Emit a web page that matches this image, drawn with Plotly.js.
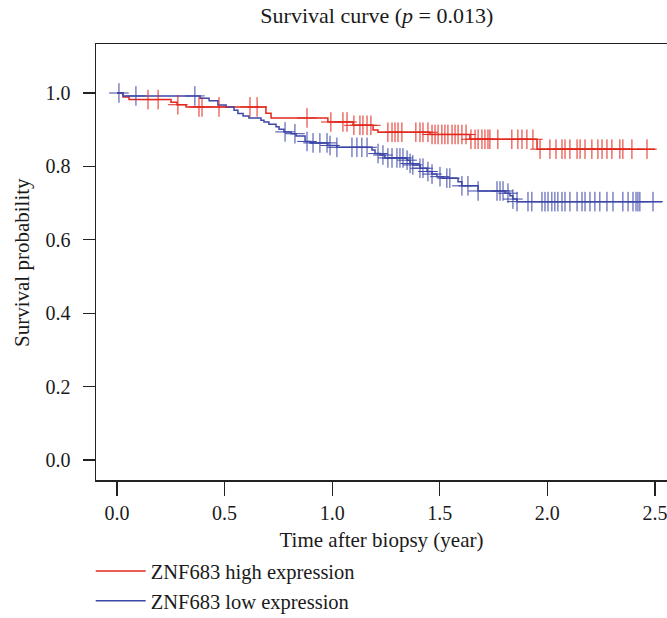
<!DOCTYPE html>
<html><head><meta charset="utf-8">
<script src="https://cdn.plot.ly/plotly-3.0.1.min.js"></script>
<style>html,body{margin:0;padding:0;background:#fff;overflow:hidden}</style>
</head><body><div id="chart" style="width:667px;height:618px"></div>
<script>
// Kaplan-Meier step data (time in years, survival after each event)
var highTimes = [0, 0.028, 0.056, 0.251, 0.279, 0.321, 0.692, 0.716, 0.980, 1.097, 1.190, 1.213, 1.454, 1.640, 1.952, 2.500];
var highSurv  = [1.0, 0.989, 0.982, 0.975, 0.968, 0.962, 0.945, 0.932, 0.921, 0.912, 0.899, 0.893, 0.887, 0.874, 0.847, 0.847];
var lowTimes = [0, 0.028, 0.386, 0.428, 0.469, 0.507, 0.544, 0.562, 0.586, 0.613, 0.669, 0.683, 0.706, 0.739, 0.753, 0.776, 0.809, 0.832, 0.874, 0.897, 0.980, 1.022, 1.185, 1.199, 1.222, 1.245, 1.348, 1.362, 1.375, 1.408, 1.441, 1.464, 1.487, 1.515, 1.585, 1.603, 1.678, 1.803, 1.826, 1.840, 1.859, 2.533];
var lowSurv  = [1.0, 0.992, 0.986, 0.979, 0.967, 0.962, 0.953, 0.944, 0.937, 0.932, 0.926, 0.921, 0.915, 0.908, 0.901, 0.894, 0.889, 0.883, 0.868, 0.864, 0.857, 0.852, 0.845, 0.835, 0.831, 0.823, 0.817, 0.808, 0.804, 0.795, 0.786, 0.779, 0.772, 0.768, 0.758, 0.747, 0.733, 0.727, 0.720, 0.711, 0.704, 0.704];
// censoring times
var highCensor = [0.144, 0.191, 0.283, 0.381, 0.395, 0.474, 0.618, 0.651, 0.883, 0.994, 1.050, 1.069, 1.101, 1.129, 1.143, 1.162, 1.180, 1.259, 1.278, 1.292, 1.306, 1.324, 1.389, 1.408, 1.422, 1.445, 1.464, 1.478, 1.492, 1.510, 1.524, 1.538, 1.557, 1.571, 1.585, 1.603, 1.622, 1.645, 1.664, 1.678, 1.696, 1.710, 1.724, 1.733, 1.770, 1.835, 1.863, 1.882, 1.905, 1.933, 1.966, 2.012, 2.040, 2.068, 2.082, 2.105, 2.138, 2.152, 2.175, 2.207, 2.235, 2.254, 2.277, 2.300, 2.337, 2.351, 2.393, 2.463];
var lowCensor = [0.009, 0.088, 0.362, 0.781, 0.827, 0.883, 0.911, 0.943, 0.976, 0.990, 1.022, 1.092, 1.115, 1.138, 1.162, 1.213, 1.236, 1.259, 1.278, 1.301, 1.315, 1.329, 1.348, 1.362, 1.375, 1.408, 1.422, 1.445, 1.464, 1.501, 1.533, 1.547, 1.603, 1.631, 1.678, 1.766, 1.780, 1.794, 1.817, 1.840, 1.859, 1.910, 1.928, 1.975, 1.989, 2.003, 2.021, 2.035, 2.049, 2.068, 2.082, 2.105, 2.138, 2.161, 2.175, 2.198, 2.221, 2.244, 2.277, 2.305, 2.351, 2.375, 2.398, 2.412, 2.421, 2.430, 2.491];
var seriesNames = ["ZNF683 high expression", "ZNF683 low expression"];
var xTicks = [0, 0.5, 1.0, 1.5, 2.0, 2.5];
var yTicks = [0, 0.2, 0.4, 0.6, 0.8, 1.0];

function stepAt(times, surv, t) {
  var s = surv[0];
  for (var i = 0; i < times.length; i++) { if (times[i] <= t) s = surv[i]; }
  return s;
}
var RED = '#e2281c', BLUE = '#3d47a8';
var FONT = '"Liberation Serif", "DejaVu Serif", serif';
var TXT = '#1a1a1a';

var traces = [
  {x: highTimes, y: highSurv, mode: 'lines', line: {shape: 'hv', color: RED, width: 1.5}, name: seriesNames[0], legendgroup: 'a'},
  {x: lowTimes, y: lowSurv, mode: 'lines', line: {shape: 'hv', color: BLUE, width: 1.5}, name: seriesNames[1], legendgroup: 'b'},
  {x: highCensor, y: highCensor.map(function(t){return stepAt(highTimes, highSurv, t);}), mode: 'markers',
   marker: {symbol: 'cross-thin-open', size: 14, color: RED, line: {color: RED, width: 1}}, showlegend: false, hoverinfo: 'skip'},
  {x: lowCensor, y: lowCensor.map(function(t){return stepAt(lowTimes, lowSurv, t);}), mode: 'markers',
   marker: {symbol: 'cross-thin-open', size: 14, color: BLUE, line: {color: BLUE, width: 1}}, showlegend: false, hoverinfo: 'skip'}
];

var layout = {
  width: 667, height: 618,
  margin: {l: 96, r: 0, t: 44, b: 138, autoexpand: false},
  paper_bgcolor: '#fff', plot_bgcolor: '#fff',
  font: {family: FONT, size: 20, color: TXT},
  title: {text: 'Survival curve (<i>p</i> = 0.013)', x: 0.565, xanchor: 'center', y: 0.975, yanchor: 'middle', font: {family: FONT, size: 22, color: TXT}},
  xaxis: {range: [-0.0976, 2.556], tickvals: xTicks, tickformat: '.1f', ticks: 'outside', ticklen: 14, tickwidth: 1.3, tickcolor: '#222',
          showline: true, mirror: true, linecolor: '#222', linewidth: 1.5, showgrid: false, zeroline: false,
          ticklabeloverflow: 'allow', automargin: false,
          tickfont: {family: FONT, size: 20, color: TXT},
          title: {text: 'Time after biopsy (year)', font: {family: FONT, size: 21, color: TXT}, standoff: 10}},
  yaxis: {range: [-0.0545, 1.1335], tickvals: yTicks, tickformat: '.1f', ticks: 'outside', ticklen: 12, tickwidth: 1.3, tickcolor: '#222',
          showline: true, mirror: false, linecolor: '#222', linewidth: 1.5, showgrid: false, zeroline: false,
          ticklabelstandoff: 8, automargin: false,
          tickfont: {family: FONT, size: 20, color: TXT}},
  annotations: [{text: 'Survival probability', xref: 'paper', yref: 'paper', x: -0.1296, y: 0.5, xanchor: 'center', yanchor: 'middle',
                 textangle: -90, showarrow: false, font: {family: FONT, size: 21, color: TXT}}],
  showlegend: true,
  legend: {xref: 'container', yref: 'container', x: 0.136, xanchor: 'left', y: 0.108, yanchor: 'top', orientation: 'v', tracegroupgap: 0,
           font: {family: FONT, size: 20.5, color: TXT}, bgcolor: 'rgba(0,0,0,0)', itemwidth: 50}
};
Plotly.newPlot('chart', traces, layout, {displayModeBar: false, staticPlot: true});
</script></body></html>
